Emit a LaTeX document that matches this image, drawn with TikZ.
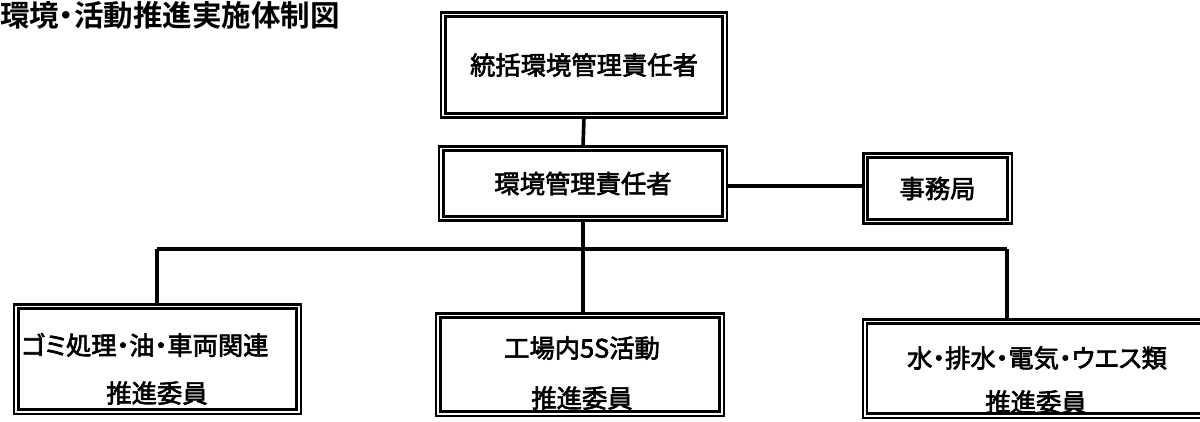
\documentclass[tikz,border=0pt]{standalone}
\usepackage{fontspec}
\setmainfont{Noto Sans CJK JP}
\newfontfamily\jpfont[RawFeature={embolden=2.5}]{Noto Sans CJK JP}
\newfontfamily\pfont[RawFeature={+palt;embolden=2.5}]{Noto Sans CJK JP}
\newfontfamily\titlefont[RawFeature=+palt]{Noto Sans CJK JP Bold}
\usepackage{tikz}

\begin{document}
\begin{tikzpicture}[x=0.025cm,y=-0.025cm,
    dbox/.style={draw, double, line width=1.6pt, double distance=1.4pt, inner sep=0pt},
    lbl/.style={font=\jpfont\fontsize{18pt}{20pt}\selectfont, inner sep=0pt},
    conn/.style={line width=2.6pt},
    bar/.style={line width=3.4pt}]
      \useasboundingbox (0,0) rectangle (1200,421);
      \node[anchor=base west, inner sep=0pt, font=\titlefont\fontsize{21pt}{24pt}\selectfont] (title) at (0,26) {環境・活動推進実施体制図};
      \node[dbox, lbl, minimum width=7.025cm, minimum height=2.525cm] (top) at (584,65) {統括環境管理責任者};
      \node[dbox, lbl, minimum width=7.075cm, minimum height=1.75cm] (mid) at (583,183.5) {環境管理責任者};
      \node[dbox, lbl, minimum width=3.6cm, minimum height=1.65cm] (jimu) at (937.5,188.5) {事務局};
      \node[dbox, minimum width=7.05cm, minimum height=2.625cm] (b1) at (157.5,359) {};
      \node[dbox, minimum width=7.075cm, minimum height=2.45cm] (b2) at (580,364.5) {};
      \begin{scope}
        \clip (0,0) rectangle (1200,421);
        \node[dbox, minimum width=9cm, minimum height=2.35cm] (b3) at (1045,368.5) {};
      \end{scope}
      \node[lbl] (t1) at (145,345) {\pfont ゴミ処理・油・車両関連};
      \node[lbl] (s1) at (157,393) {推進委員};
      \node[lbl] (t2) at (582,348) {\pfont 工場内5S活動};
      \node[lbl] (s2) at (582,398) {推進委員};
      \node[lbl] (t3) at (1037,358) {\pfont 水・排水・電気・ウエス類};
      \node[lbl] (s3) at (1036,402) {推進委員};
      \coordinate (jL) at (157,249);
      \coordinate (jM) at (583,249);
      \coordinate (jR) at (1007,249);
      \draw[conn] (top.south) -- (mid.north);
      \draw[conn] (mid.east |- 0,186) -- (jimu.west |- 0,186);
      \draw[conn] (mid.south) -- (jM);
      \draw[bar] (jL) -- (jR);
      \draw[conn] (jL) -- (jL |- b1.north);
      \draw[conn] (jM) -- (jM |- b2.north);
      \draw[conn] (jR) -- (jR |- b3.north);
    \end{tikzpicture}
\end{document}
